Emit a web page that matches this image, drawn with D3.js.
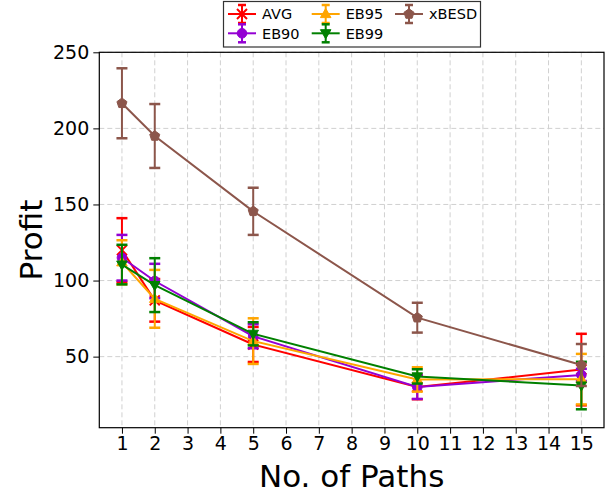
<!DOCTYPE html>
<html>
<head>
<meta charset="utf-8">
<script src="https://cdn.jsdelivr.net/npm/d3@7"></script>
<style>
  body { margin: 0; background: #fff; }
  svg { font-family: "DejaVu Sans", sans-serif; }
</style>
</head>
<body>
<svg id="chart" width="605" height="494"></svg>
<script>
// values
var paths   = [1, 2, 5, 10, 15];
var xTicks  = [1, 2, 3, 4, 5, 6, 7, 8, 9, 10, 11, 12, 13, 14, 15];
var yTicks  = [50, 100, 150, 200, 250];

var avgVal   = [120, 87, 58, 30, 41.5];
var avgErr   = [21, 14, 11.5, 8, 23.5];
var eb90Val  = [115, 99.7, 63.4, 30, 38];
var eb90Err  = [15, 11.3, 7.9, 7.8, 4];
var eb95Val  = [112, 88, 60.2, 35, 35.2];
var eb95Err  = [14.5, 19, 15, 8, 16.6];
var eb99Val  = [110.5, 97, 65, 37, 31];
var eb99Err  = [13, 17.7, 7.6, 4.7, 15.6];
var besdVal  = [216.5, 195, 145.5, 75.6, 44.5];
var besdErr  = [23, 21, 15.5, 9.8, 13.8];

var series = [
	{ name: 'AVG',   color: '#ff0000', marker: 'x',   val: avgVal,  err: avgErr },
	{ name: 'EB90',  color: '#9400d3', marker: 'o',   val: eb90Val, err: eb90Err },
	{ name: 'EB95',  color: '#ffa500', marker: '^',   val: eb95Val, err: eb95Err },
	{ name: 'EB99',  color: '#008000', marker: 'v',   val: eb99Val, err: eb99Err },
	{ name: 'xBESD', color: '#8c564b', marker: 'p',   val: besdVal, err: besdErr }
];

var plotL = 99.3, plotR = 604, plotT = 52.3, plotB = 427.7;

var svg = d3.select('#chart');

var x = d3.scaleLinear().domain([0.31, 15.69]).range([plotL, plotR]);
var y = d3.scaleLinear().domain([3.3, 250]).range([plotB, plotT]);

// grid
var grid = svg.append('g').attr('class', 'grid');
grid.selectAll('.vg').data(xTicks).enter().append('line')
	.attr('x1', function(d){ return x(d); }).attr('x2', function(d){ return x(d); })
	.attr('y1', plotT).attr('y2', plotB)
	.attr('stroke', '#d0d0d0').attr('stroke-width', 1).attr('stroke-dasharray', '5,3');
grid.selectAll('.hg').data(yTicks).enter().append('line')
	.attr('x1', plotL).attr('x2', plotR)
	.attr('y1', function(d){ return y(d); }).attr('y2', function(d){ return y(d); })
	.attr('stroke', '#d0d0d0').attr('stroke-width', 1).attr('stroke-dasharray', '5,3');

function markerPath(type, r) {
	if (type === 'o') return d3.symbol().type(d3.symbolCircle).size(Math.PI * r * r)();
	if (type === '^') return 'M0,' + (-r * 1.15) + 'L' + (r * 1.1) + ',' + (r * 0.75) + 'L' + (-r * 1.1) + ',' + (r * 0.75) + 'Z';
	if (type === 'v') return 'M0,' + (r * 1.15) + 'L' + (r * 1.1) + ',' + (-r * 0.75) + 'L' + (-r * 1.1) + ',' + (-r * 0.75) + 'Z';
	if (type === 'p') {
		var pts = [];
		for (var i = 0; i < 5; i++) {
			var a = -Math.PI / 2 + i * 2 * Math.PI / 5;
			pts.push([Math.cos(a) * r * 1.1, Math.sin(a) * r * 1.1]);
		}
		return 'M' + pts.join('L') + 'Z';
	}
	// 'x'
	return 'M' + (-r) + ',' + (-r) + 'L' + r + ',' + r + 'M' + (-r) + ',' + r + 'L' + r + ',' + (-r);
}

function drawMarker(g, type, color, cx, cy, r) {
	var p = g.append('path')
		.attr('d', markerPath(type, r))
		.attr('transform', 'translate(' + cx + ',' + cy + ')');
	if (type === 'x') {
		p.attr('fill', 'none').attr('stroke', color).attr('stroke-width', 2);
	} else {
		p.attr('fill', color).attr('stroke', color).attr('stroke-width', 1);
	}
}

var line = d3.line()
	.x(function(d){ return x(d[0]); })
	.y(function(d){ return y(d[1]); });

var cap = 5.5;

series.forEach(function(s){
	var g = svg.append('g').attr('class', 'series');
	var pts = paths.map(function(p, i){ return [p, s.val[i], s.err[i]]; });

	pts.forEach(function(d){
		var cx = x(d[0]);
		var y1 = y(d[1] - d[2]), y2 = y(d[1] + d[2]);
		g.append('line').attr('x1', cx).attr('x2', cx).attr('y1', y1).attr('y2', y2)
			.attr('stroke', s.color).attr('stroke-width', 2);
		[y1, y2].forEach(function(yy){
			g.append('line').attr('x1', cx - cap).attr('x2', cx + cap).attr('y1', yy).attr('y2', yy)
				.attr('stroke', s.color).attr('stroke-width', 2.5);
		});
	});

	g.append('path').datum(pts)
		.attr('d', line)
		.attr('fill', 'none')
		.attr('stroke', s.color)
		.attr('stroke-width', 2);

	pts.forEach(function(d){
		drawMarker(g, s.marker, s.color, x(d[0]), y(d[1]), s.marker === 'x' ? 5 : 4.8);
	});
});

// axes
var xAxis = d3.axisBottom(x).tickValues(xTicks).tickSize(6).tickPadding(3).tickFormat(d3.format('d'));
var yAxis = d3.axisLeft(y).tickValues(yTicks).tickSize(6).tickPadding(4);

var gx = svg.append('g').attr('transform', 'translate(0,' + plotB + ')').call(xAxis);
var gy = svg.append('g').attr('transform', 'translate(' + plotL + ',0)').call(yAxis);
[gx, gy].forEach(function(ax){
	ax.select('.domain').remove();
	ax.attr('font-size', null).attr('font-family', null);
	ax.selectAll('.tick line').attr('stroke', '#000').attr('stroke-width', 1);
	ax.selectAll('.tick text').attr('fill', '#000').style('font-size', '19px');
});

// frame
svg.append('rect')
	.attr('x', plotL).attr('y', plotT)
	.attr('width', plotR - plotL).attr('height', plotB - plotT)
	.attr('fill', 'none').attr('stroke', '#000').attr('stroke-width', 1.2);

// axis labels
svg.append('text')
	.attr('x', (plotL + plotR) / 2).attr('y', 487)
	.attr('text-anchor', 'middle')
	.style('font-size', '31px')
	.text('No. of Paths');

svg.append('text')
	.attr('transform', 'translate(42,' + ((plotT + plotB) / 2) + ') rotate(-90)')
	.attr('text-anchor', 'middle')
	.style('font-size', '31px')
	.text('Profit');

// legend, filled column by column like matplotlib ncol=3
var legend = svg.append('g').attr('class', 'legend');
legend.append('rect')
	.attr('x', 223.5).attr('y', 1.5).attr('width', 257).attr('height', 45.5)
	.attr('fill', '#fff').attr('stroke', '#333').attr('stroke-width', 1.2);

var colX = [228, 311.7, 395];
var rowY = [14, 33.3];

series.forEach(function(s, i){
	var col = Math.floor(i / 2), row = i % 2;
	var lx = colX[col], ly = rowY[row];
	var lg = legend.append('g');
	var mid = lx + 14;
	lg.append('line').attr('x1', lx).attr('x2', lx + 28).attr('y1', ly).attr('y2', ly)
		.attr('stroke', s.color).attr('stroke-width', 2);
	lg.append('line').attr('x1', mid).attr('x2', mid).attr('y1', ly - 9).attr('y2', ly + 9)
		.attr('stroke', s.color).attr('stroke-width', 2);
	[ly - 9, ly + 9].forEach(function(yy){
		lg.append('line').attr('x1', mid - 4).attr('x2', mid + 4).attr('y1', yy).attr('y2', yy)
			.attr('stroke', s.color).attr('stroke-width', 2.5);
	});
	drawMarker(lg, s.marker, s.color, mid, ly, s.marker === 'x' ? 5 : 4.8);
	lg.append('text')
		.attr('x', lx + 34).attr('y', ly)
		.attr('dy', '0.36em')
		.style('font-size', '14.5px')
		.text(s.name);
});
</script>
</body>
</html>
